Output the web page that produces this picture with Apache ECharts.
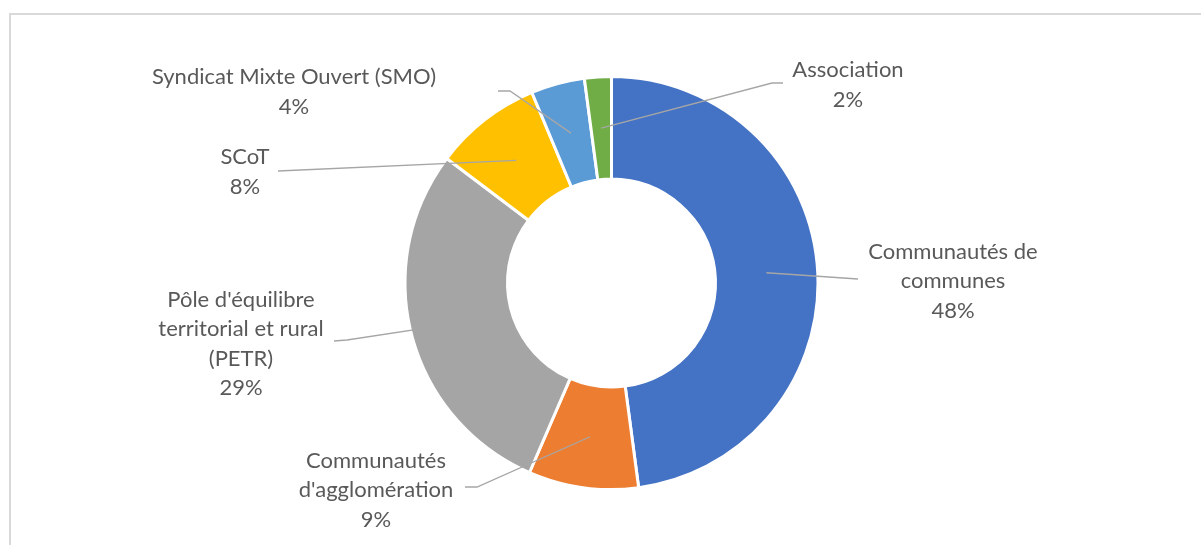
<!DOCTYPE html>
<html>
<head>
<meta charset="utf-8">
<script src="https://cdn.jsdelivr.net/npm/echarts@6/dist/echarts.min.js"></script>
<style>
  html, body { margin: 0; padding: 0; background: #fff; }
  #chart { width: 1201px; height: 545px; }
</style>
</head>
<body>
<div id="chart"></div>
<script>
// répartition des structures (anneau), valeurs en %
const categories = [
  'Communautés de\ncommunes',
  "Communautés\nd'agglomération",
  "Pôle d'équilibre\nterritorial et rural\n(PETR)",
  'SCoT',
  'Syndicat Mixte Ouvert (SMO)',
  'Association'
]
const shares = [47.9, 8.6, 28.8, 8.4, 4.2, 2.1]
const colors = ['#4472C4', '#ED7D31', '#A5A5A5', '#FFC000', '#5B9BD5', '#70AD47']

// centre du bloc de texte + points du trait de rappel (après l'ancrage dans le secteur)
const labelSpots = [
  { x: 953, y: 281, line: [[858, 279]] },
  { x: 376, y: 490, line: [[477, 487], [465, 487]] },
  { x: 241, y: 344, line: [[347, 340], [334, 341]] },
  { x: 245, y: 172, line: [[278, 171]] },
  { x: 294, y: 92, line: [[510, 91], [498, 91]] },
  { x: 848, y: 85, line: [[772, 83], [783, 83]] }
]

const chart = echarts.init(document.getElementById('chart'))

const pieCenter = [611.5, 283]
const pieRadius = [104, 206.5]

const option = {
  animation: false,
  backgroundColor: '#fff',
  // cadre gris du graphique
  graphic: [
    {
      type: 'rect',
      shape: { x: 10, y: 14, width: 1300, height: 700 },
      style: { fill: 'none', stroke: '#D9D9D9', lineWidth: 2 },
      silent: true
    }
  ],
  series: [
    // 1. les secteurs colorés
    {
      type: 'pie',
      center: pieCenter,
      radius: pieRadius,
      startAngle: 90,
      clockwise: true,
      silent: true,
      emphasis: { disabled: true },
      itemStyle: { borderColor: '#fff', borderWidth: 3 },
      label: { show: false },
      labelLine: { show: false },
      data: categories.map((name, i) => ({
        name: name,
        value: shares[i],
        itemStyle: { color: colors[i] }
      }))
    },
    // 2. même anneau transparent au-dessus : étiquettes + traits de rappel visibles sur les secteurs
    {
      type: 'pie',
      z: 5,
      center: pieCenter,
      radius: pieRadius,
      startAngle: 90,
      clockwise: true,
      silent: true,
      avoidLabelOverlap: false,
      emphasis: { disabled: true },
      itemStyle: { color: 'rgba(0,0,0,0)', borderWidth: 0 },
      label: {
        show: true,
        position: 'outside',
        formatter: (p) => p.name + '\n' + Math.round(p.value) + '%',
        color: '#595959',
        fontFamily: 'Lato',
        fontSize: 22,
        lineHeight: 29.5,
        align: 'center'
      },
      labelLine: {
        show: true,
        smooth: false,
        lineStyle: { color: '#A6A6A6', width: 1.3 }
      },
      labelLayout: function (params) {
        const spot = labelSpots[params.dataIndex]
        const lay = chart.getModel().getSeriesByIndex(1).getData().getItemLayout(params.dataIndex)
        const mid = (lay.startAngle + lay.endAngle) / 2
        const rm = (lay.r + lay.r0) / 2
        const anchor = [lay.cx + rm * Math.cos(mid), lay.cy + rm * Math.sin(mid)]
        return {
          x: spot.x,
          y: spot.y,
          align: 'center',
          verticalAlign: 'middle',
          labelLinePoints: [anchor].concat(spot.line)
        }
      },
      data: categories.map((name, i) => ({ name: name, value: shares[i] }))
    }
  ]
}

chart.setOption(option)
</script>
</body>
</html>
